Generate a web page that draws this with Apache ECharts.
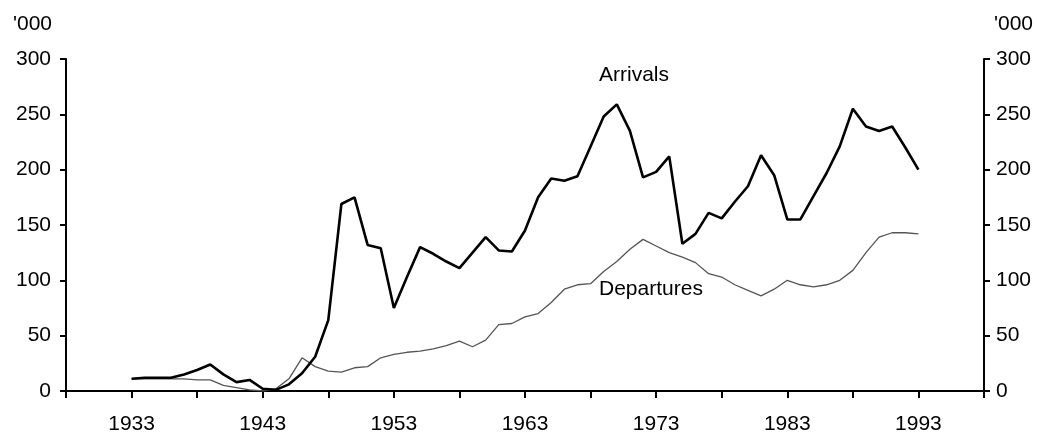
<!DOCTYPE html>
<html>
<head>
<meta charset="utf-8">
<script src="https://cdn.jsdelivr.net/npm/echarts@6/dist/echarts.min.js"></script>
<style>
html,body{margin:0;padding:0;background:#fff;}
#chart{width:1037px;height:435px;}
</style>
</head>
<body>
<div id="chart"></div>
<script>
var firstYear = 1928, lastYear = 1998;
var dataStartYear = 1933;
var arrivals = [11,12,12,12,15,19,24,15,8,10,2,1,6,16,31,64,169,175,132,129,75,103,130,124,117,111,125,139,127,126,145,175,192,190,194,221,248,259,235,193,198,212,133,142,161,156,171,185,213,195,155,155,176,197,221,255,239,235,239,220,200];
var departures = [11,11,11,11,11,10,10,5,3,1,0,2,11,30,22,18,17,21,22,30,33,35,36,38,41,45,40,46,60,61,67,70,80,92,96,97,108,117,128,137,131,125,121,116,106,103,96,91,86,92,100,96,94,96,100,109,125,139,143,143,142];
var yTicks = [0,50,100,150,200,250,300];
var unitLabel = "'000";
var seriesNames = ['Arrivals','Departures'];

var years = [];
for (var y = firstYear; y <= lastYear; y++) years.push(String(y));
function pad(arr){
  var out = [];
  for (var y = firstYear; y <= lastYear; y++){
    var i = y - dataStartYear;
    out.push(i >= 0 && i < arr.length ? arr[i] : null);
  }
  return out;
}

var font = '"Liberation Sans", Arial, sans-serif';
var chart = echarts.init(document.getElementById('chart'));
var yAxisBase = {
  type:'value', min:yTicks[0], max:yTicks[yTicks.length-1], interval:50,
  axisLine:{show:true,lineStyle:{color:'#000',width:2}},
  axisTick:{show:true,length:6,lineStyle:{color:'#000',width:2}},
  splitLine:{show:false},
  axisLabel:{color:'#000',fontSize:21,fontFamily:font}
};
chart.setOption({
  animation:false,
  backgroundColor:'#fff',
  grid:{left:66,right:53,top:59,bottom:42,containLabel:false},
  xAxis:{
    type:'category', data:years, boundaryGap:false,
    axisLine:{lineStyle:{color:'#000',width:2}},
    axisTick:{show:true,length:7,lineStyle:{color:'#000',width:2},
      interval:function(i){return i%5===0;}},
    axisLabel:{color:'#000',fontSize:21,fontFamily:font,margin:23,
      interval:function(i){return (i-5)%10===0 && i>=5;}}
  },
  yAxis:[
    Object.assign({}, yAxisBase, {position:'left', axisLabel:Object.assign({}, yAxisBase.axisLabel,{margin:15})}),
    Object.assign({}, yAxisBase, {position:'right', axisLabel:Object.assign({}, yAxisBase.axisLabel,{margin:12})})
  ],
  graphic:[
    {type:'text',left:13,top:14,style:{text:unitLabel,fontSize:21,fontFamily:font,fill:'#000'}},
    {type:'text',left:994,top:14,style:{text:unitLabel,fontSize:21,fontFamily:font,fill:'#000'}},
    {type:'text',left:599,top:65,style:{text:seriesNames[0],fontSize:21,fontFamily:font,fill:'#000'}},
    {type:'text',left:599,top:279,style:{text:seriesNames[1],fontSize:21,fontFamily:font,fill:'#000'}}
  ],
  series:[
    {name:seriesNames[1],type:'line',data:pad(departures),showSymbol:false,connectNulls:false,
      lineStyle:{color:'#555',width:1.3},z:2},
    {name:seriesNames[0],type:'line',data:pad(arrivals),showSymbol:false,connectNulls:false,
      lineStyle:{color:'#000',width:2.6},z:3}
  ]
});
</script>
</body>
</html>
